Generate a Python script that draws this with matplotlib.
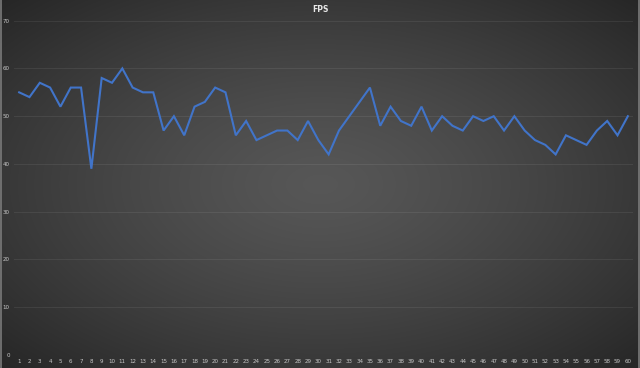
"""FPS per sample, dark Excel-style line chart."""

import numpy as np
import matplotlib
matplotlib.use("Agg")
import matplotlib.pyplot as plt

samples = list(range(1, 61))
fps = [55, 54, 57, 56, 52, 56, 56, 39, 58, 57,
       60, 56, 55, 55, 47, 50, 46, 52, 53, 56,
       55, 46, 49, 45, 46, 47, 47, 45, 49, 45,
       42, 47, 50, 53, 56, 48, 52, 49, 48, 52,
       47, 50, 48, 47, 50, 49, 50, 47, 50, 47,
       45, 44, 42, 46, 45, 44, 47, 49, 46, 50]
y_ticks = [0, 10, 20, 30, 40, 50, 60, 70]

W, H = 640, 368
fig = plt.figure(figsize=(W / 100, H / 100), dpi=100)

# radial gradient background
bg = fig.add_axes([0, 0, 1, 1], zorder=0)
yy, xx = np.mgrid[0:H, 0:W]
r = np.sqrt(((xx - W * 0.5) / (W * 0.5)) ** 2 + ((yy - H * 0.5) / (H * 0.5)) ** 2)
r = np.clip(r / np.sqrt(2), 0, 1)
shade = 0.34 - 0.19 * r ** 1.3
bg.imshow(np.dstack([shade, shade, shade]), aspect="auto", extent=(0, 1, 0, 1))
bg.plot([0.001, 0.001], [0, 1], color="#7a7a7a", lw=1.2)
bg.plot([0.998, 0.998], [0, 1], color="#7a7a7a", lw=1.2)
bg.set_xlim(0, 1)
bg.set_ylim(0, 1)
bg.axis("off")

ax = fig.add_axes([14 / W, 1 - 355 / H, 619 / W, (355 - 20.7) / H], zorder=1)
ax.patch.set_alpha(0)
ax.plot(samples, fps, color="#4174c9", lw=1.5, solid_joinstyle="miter")
ax.set_xlim(0.5, 60.5)
ax.set_ylim(0, 70)
ax.set_xticks(samples)
ax.set_yticks(y_ticks)
ax.tick_params(length=0, labelsize=4, colors="#c8c8c8", pad=3)
ax.grid(axis="y", color="white", alpha=0.07, lw=0.8)
ax.set_axisbelow(True)
for s in ax.spines.values():
    s.set_visible(False)

fig.text(0.5, 1 - 9 / H, "FPS", ha="center", va="center",
         fontsize=5.5, fontweight="bold", color="#e8e8e8")

fig.savefig("out.png", dpi=100)
